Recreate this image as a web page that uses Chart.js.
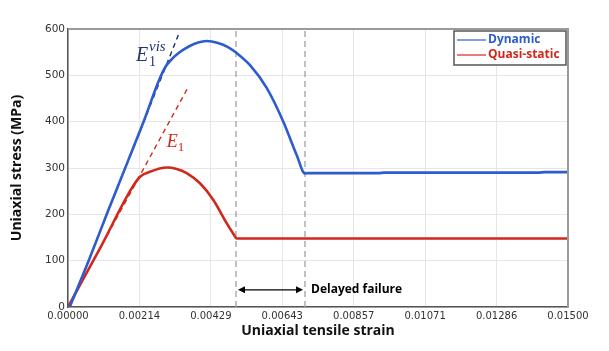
<!DOCTYPE html>
<html lang="en">
<head>
    <meta charset="UTF-8">
    <title>Uniaxial stress vs strain</title>
    <style>
        body {
            margin: 0;
            background-color: #ffffff;
        }
        canvas {
            display: block;
        }
    </style>
    <script src="https://cdn.jsdelivr.net/npm/chart.js"></script>
</head>
<body>
    <canvas id="stressChart" width="609" height="351"></canvas>

    <script>
        // Dynamic curve (strain, MPa)
        const dynStrain = [0.00005, 0.00062, 0.00120, 0.00181, 0.00231, 0.00270, 0.00292, 0.00310, 0.00330, 0.00350, 0.00380, 0.00416, 0.00450, 0.00480, 0.00506, 0.00546, 0.00596, 0.00646, 0.00686, 0.00711, 0.00720, 0.00930, 0.00950, 0.01410, 0.01430, 0.01500];
        const dynStress = [0, 100, 207, 317, 408, 484, 518, 534, 547, 557, 568, 574, 570, 561, 548, 522, 473, 400, 328, 288, 289, 289, 290, 290, 291, 291];

        // Quasi-static curve
        const qsStrain = [0, 0.00100, 0.00186, 0.00216, 0.00246, 0.00296, 0.00326, 0.00356, 0.00396, 0.00436, 0.00476, 0.00496, 0.00506, 0.00520, 0.01500];
        const qsStress = [0, 132, 250, 281, 292, 301, 298, 289, 267, 231, 181, 158, 148, 148, 148];

        // tangent (modulus) lines
        const eVisStrain = [0.00006, 0.00331];
        const eVisStress = [0, 587];
        const e1Strain = [0, 0.00361];
        const e1Stress = [0, 475];

        // where the two curves drop off
        const failureStrain = [0.00504, 0.00711];

        const xTicks = [0, 0.015 / 7, 0.03 / 7, 0.045 / 7, 0.06 / 7, 0.075 / 7, 0.09 / 7, 0.015];
        const yTicks = [0, 100, 200, 300, 400, 500, 600];

        const BLUE = '#2d5ccf';
        const RED = '#d2281c';

        function toPoints(xs, ys) {
            return xs.map((x, i) => ({ x: x, y: ys[i] }));
        }

        const datasets = [
            {
                label: 'Dynamic',
                data: toPoints(dynStrain, dynStress),
                borderColor: BLUE,
                borderWidth: 2.6,
                cubicInterpolationMode: 'monotone'
            },
            {
                label: 'Quasi-static',
                data: toPoints(qsStrain, qsStress),
                borderColor: RED,
                borderWidth: 2.6,
                cubicInterpolationMode: 'monotone'
            },
            {
                label: 'E1vis',
                data: toPoints(eVisStrain, eVisStress),
                borderColor: '#1b2a66',
                borderWidth: 1.4,
                borderDash: [5, 4]
            },
            {
                label: 'E1',
                data: toPoints(e1Strain, e1Stress),
                borderColor: RED,
                borderWidth: 1.4,
                borderDash: [5, 4]
            }
        ];
        failureStrain.forEach(s => {
            datasets.push({
                label: 'failure',
                data: [{ x: s, y: 0 }, { x: s, y: 600 }],
                borderColor: '#a0a0a0',
                borderWidth: 1.3,
                borderDash: [6, 4]
            });
        });

        // frame, legend, arrow and modulus labels
        const extras = {
            id: 'extras',
            afterDatasetsDraw(chart) {
                const ctx = chart.ctx;
                const a = chart.chartArea;
                const xs = chart.scales.x;
                const ys = chart.scales.y;
                ctx.save();

                // top and right border
                ctx.strokeStyle = '#9a9a9a';
                ctx.lineWidth = 2;
                ctx.beginPath();
                ctx.moveTo(a.left, a.top);
                ctx.lineTo(a.right, a.top);
                ctx.lineTo(a.right, a.bottom);
                ctx.stroke();

                // legend
                const lx = a.right - 114, ly = a.top + 2;
                ctx.fillStyle = '#ffffff';
                ctx.fillRect(lx, ly, 112, 34);
                ctx.strokeStyle = '#555555';
                ctx.lineWidth = 1.5;
                ctx.strokeRect(lx, ly, 112, 34);
                ctx.font = 'bold 12px "Open Sans"';
                ctx.textBaseline = 'middle';
                chart.data.datasets.slice(0, 2).forEach((ds, i) => {
                    const yy = ly + 9 + i * 15;
                    ctx.strokeStyle = ds.borderColor;
                    ctx.globalAlpha = 0.8;
                    ctx.lineWidth = 1.5;
                    ctx.beginPath();
                    ctx.moveTo(lx + 3, yy);
                    ctx.lineTo(lx + 32, yy);
                    ctx.stroke();
                    ctx.globalAlpha = 1;
                    ctx.fillStyle = ds.borderColor;
                    ctx.fillText(ds.label, lx + 34, yy);
                });

                // delayed failure arrow
                const x1 = xs.getPixelForValue(failureStrain[0]) + 2;
                const x2 = xs.getPixelForValue(failureStrain[1]) - 2;
                const ay = ys.getPixelForValue(37);
                ctx.strokeStyle = '#000000';
                ctx.fillStyle = '#000000';
                ctx.lineWidth = 1.4;
                ctx.beginPath();
                ctx.moveTo(x1 + 4, ay);
                ctx.lineTo(x2 - 4, ay);
                ctx.stroke();
                [[x1, 1], [x2, -1]].forEach(([px, d]) => {
                    ctx.beginPath();
                    ctx.moveTo(px, ay);
                    ctx.lineTo(px + 7 * d, ay - 3.5);
                    ctx.lineTo(px + 7 * d, ay + 3.5);
                    ctx.closePath();
                    ctx.fill();
                });
                ctx.font = 'bold 12px "Open Sans"';
                ctx.textAlign = 'left';
                ctx.fillText('Delayed failure', x2 + 8, ay);

                // modulus labels
                ctx.textBaseline = 'alphabetic';
                let px = xs.getPixelForValue(0.00204), py = ys.getPixelForValue(530);
                ctx.fillStyle = '#1f3577';
                ctx.font = 'italic 20px "Liberation Serif"';
                ctx.fillText('E', px, py);
                ctx.font = 'italic 15px "Liberation Serif"';
                ctx.fillText('vis', px + 13, py - 10);
                ctx.font = '14px "Liberation Serif"';
                ctx.fillText('1', px + 13, py + 5);

                px = xs.getPixelForValue(0.00296); py = ys.getPixelForValue(345);
                ctx.fillStyle = RED;
                ctx.font = 'italic 18px "Liberation Serif"';
                ctx.fillText('E', px, py);
                ctx.font = '13px "Liberation Serif"';
                ctx.fillText('1', px + 11, py + 4);

                ctx.restore();
            }
        };

        new Chart(document.getElementById('stressChart'), {
            type: 'line',
            data: { datasets: datasets },
            options: {
                responsive: false,
                animation: false,
                layout: { padding: { left: 0, right: 41, top: 29, bottom: 0 } },
                elements: { point: { radius: 0 } },
                plugins: {
                    legend: { display: false },
                    tooltip: { enabled: false }
                },
                scales: {
                    x: {
                        type: 'linear',
                        min: 0,
                        max: 0.015,
                        afterBuildTicks: s => { s.ticks = xTicks.map(v => ({ value: v })); },
                        afterFit: s => { s.height = 44; },
                        ticks: {
                            callback: v => v.toFixed(5),
                            color: '#333333',
                            font: { family: 'DejaVu Sans', size: 10 },
                            padding: 3,
                            maxRotation: 0,
                            autoSkip: false
                        },
                        grid: { color: '#e6e6e6', drawTicks: false },
                        border: { color: '#555555', width: 1.5 },
                        title: {
                            display: true,
                            text: 'Uniaxial tensile strain',
                            color: '#111111',
                            font: { family: 'Open Sans', size: 14, weight: 'bold' },
                            padding: { top: 0, bottom: 12 }
                        }
                    },
                    y: {
                        min: 0,
                        max: 600,
                        afterBuildTicks: s => { s.ticks = yTicks.map(v => ({ value: v })); },
                        afterFit: s => { s.width = 68; },
                        ticks: {
                            color: '#333333',
                            font: { family: 'DejaVu Sans', size: 10.5 },
                            padding: 3
                        },
                        grid: { color: '#e6e6e6', drawTicks: false },
                        border: { color: '#555555', width: 1.5 },
                        title: {
                            display: true,
                            text: 'Uniaxial stress (MPa)',
                            color: '#111111',
                            font: { family: 'Open Sans', size: 14, weight: 'bold' },
                            padding: { top: 9, bottom: 0 }
                        }
                    }
                }
            },
            plugins: [extras]
        });
    </script>
</body>
</html>
